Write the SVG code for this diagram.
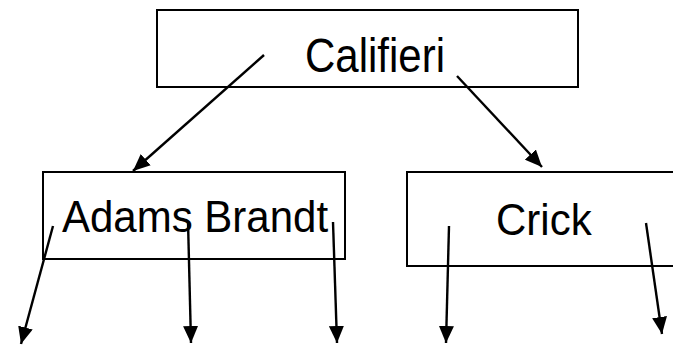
<svg xmlns="http://www.w3.org/2000/svg" width="673" height="345" viewBox="0 0 673 345">
<style>
.box{fill:#fff;stroke:#000;stroke-width:2}
.lbl{font-family:"Liberation Sans",Arial,sans-serif;font-size:42px;fill:#000}
.conn{stroke:#000;stroke-width:2.4;fill:none;marker-end:url(#ah)}
</style>
<defs>
<marker id="ah" viewBox="0 0 17 15" refX="17" refY="7.5" markerWidth="17" markerHeight="15" markerUnits="userSpaceOnUse" orient="auto">
<path d="M0,0 L17,7.5 L0,15 z" fill="#000"/>
</marker>
</defs>
<rect width="673" height="345" fill="#fff"/>
<g id="node-califieri">
<rect class="box" x="157" y="10" width="421" height="77"/>
<text class="lbl" transform="translate(305,72) scale(1,1.15)">Califieri</text>
</g>
<g id="node-adams-brandt">
<rect class="box" x="43" y="172" width="302" height="87"/>
<text class="lbl" transform="translate(62,232) scale(1,1.07)">Adams Brandt</text>
</g>
<g id="node-crick">
<rect class="box" x="407" y="172" width="280" height="94"/>
<text class="lbl" transform="translate(496,235) scale(1,1.07)">Crick</text>
</g>
<g id="connectors">
<line class="conn" x1="264" y1="55" x2="133" y2="171"/>
<line class="conn" x1="457" y1="76" x2="542" y2="167"/>
<line class="conn" x1="53" y1="226" x2="21" y2="344"/>
<line class="conn" x1="188" y1="221" x2="191" y2="343"/>
<line class="conn" x1="333" y1="222" x2="337" y2="343"/>
<line class="conn" x1="449" y1="226" x2="446" y2="343"/>
<line class="conn" x1="646" y1="223" x2="662" y2="334"/>
</g>
</svg>
